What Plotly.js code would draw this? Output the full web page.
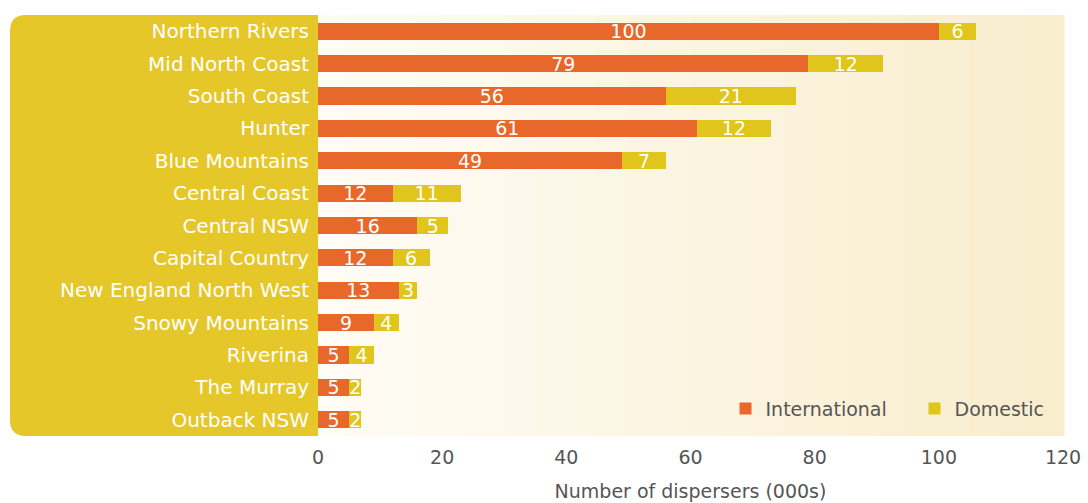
<!DOCTYPE html>
<html>
<head>
<meta charset="utf-8">
<script src="https://cdn.plot.ly/plotly-3.0.1.min.js"></script>
<style>
html,body{margin:0;padding:0;background:#fff;}
#chart{width:1088px;height:503px;}
</style>
</head>
<body>
<div id="chart"></div>
<script>
const regions = ["Northern Rivers","Mid North Coast","South Coast","Hunter","Blue Mountains","Central Coast","Central NSW","Capital Country","New England North West","Snowy Mountains","Riverina","The Murray","Outback NSW"];
const international = [100,79,56,61,49,12,16,12,13,9,5,5,5];
const domestic = [6,12,21,12,7,11,5,6,3,4,4,2,2];
const xTicks = [0,20,40,60,80,100,120];

(function(){
const W = 1088, H = 503;
const mL = 318, mR = 25, mT = 15, mB = 67;
const pw = W - mL - mR, ph = H - mT - mB;

// background gradient strips (styling)
const shapes = [];
const nStrips = 24;
const c0 = [255,252,245], c1 = [248,237,205];
for (let i = 0; i < nStrips; i++) {
  const t = i / (nStrips - 1);
  const c = c0.map((v, k) => Math.round(v + (c1[k] - v) * t));
  shapes.push({type:'rect', xref:'paper', yref:'paper', x0:i/nStrips, x1:(i+1)/nStrips+0.002, y0:0, y1:1,
    fillcolor:`rgb(${c[0]},${c[1]},${c[2]})`, line:{width:0}, layer:'below'});
}
// yellow label panel with rounded left corners
const pxf = v => (v - mL) / pw;
const pL = pxf(10), pR = 0, pT = 1, pB = 0;
const rx = 16 / pw, ry = 16 / ph;
const path = `M ${pR} ${pT} L ${pL + rx} ${pT} Q ${pL} ${pT} ${pL} ${pT - ry} L ${pL} ${pB + ry} Q ${pL} ${pB} ${pL + rx} ${pB} L ${pR} ${pB} Z`;
shapes.push({type:'path', xref:'paper', yref:'paper', path:path, fillcolor:'#E5C72A', line:{width:0}, layer:'below'});

const fontFam = 'DejaVu Sans, Verdana, sans-serif';

const traces = [
  {type:'bar', orientation:'h', name:'International', y:regions, x:international,
   marker:{color:'#E8672B'}, text:international.map(String), textposition:'inside', textangle:0,
   insidetextanchor:'middle', constraintext:'none', cliponaxis:false,
   insidetextfont:{color:'#ffffff', size:19, family:fontFam}, hoverinfo:'x+y'},
  {type:'bar', orientation:'h', name:'Domestic', y:regions, x:domestic,
   marker:{color:'#DFC51C'}, text:domestic.map(String), textposition:'inside', textangle:0,
   insidetextanchor:'middle', constraintext:'none', cliponaxis:false,
   insidetextfont:{color:'#ffffff', size:19, family:fontFam}, hoverinfo:'x+y'}
];

const layout = {
  width:W, height:H,
  margin:{l:mL, r:mR, t:mT, b:mB, autoexpand:false},
  paper_bgcolor:'#ffffff', plot_bgcolor:'rgba(0,0,0,0)',
  barmode:'stack', bargap:0.47,
  font:{family:fontFam, color:'#555555', size:19},
  showlegend:true,
  legend:{orientation:'h', x:0.547, y:0.065, xanchor:'left', yanchor:'middle',
    bgcolor:'rgba(0,0,0,0)', font:{size:19, color:'#555555', family:fontFam}, traceorder:'normal',
    itemwidth:30, entrywidth:144, entrywidthmode:'pixels'},
  xaxis:{range:[0,120], tickvals:xTicks, ticktext:xTicks.map(String), showgrid:false, zeroline:false,
    showline:false, ticks:'', tickfont:{size:19, color:'#555555'}, ticklabelstandoff:8, automargin:false,
    title:{text:'Number of dispersers (000s)', font:{size:19, color:'#555555'}, standoff:17}},
  yaxis:{autorange:'reversed', showgrid:false, zeroline:false, showline:false, ticks:'', automargin:false,
    ticklabelstandoff:8, tickfont:{size:20, color:'#ffffff'}},
  shapes:shapes
};

Plotly.newPlot('chart', traces, layout, {displayModeBar:false, staticPlot:true});
})();
</script>
</body>
</html>
